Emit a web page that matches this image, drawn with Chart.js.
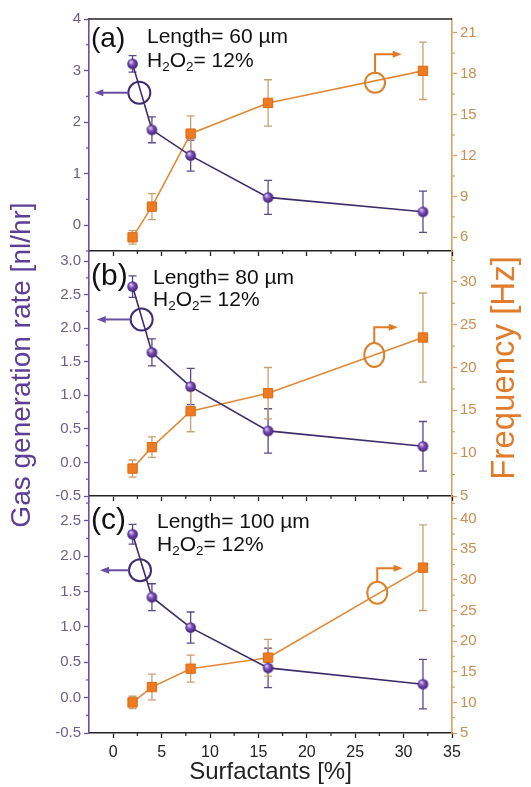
<!DOCTYPE html>
<html><head><meta charset="utf-8">
<script src="https://cdn.jsdelivr.net/npm/chart.js@4.4.1/dist/chart.umd.min.js"></script>
<style>
html,body{margin:0;padding:0;background:#fff;}
#wrap{position:relative;width:531px;height:787px;overflow:hidden;background:#fff;}
canvas{position:absolute;left:0;top:0;}
</style></head><body>
<div id="wrap"><canvas id="cc" width="531" height="787"></canvas><canvas id="cb" width="531" height="787"></canvas><canvas id="ca" width="531" height="787"></canvas></div>
<script>
// ---------- data ----------
const surfactants = [2, 4, 8, 16, 32];

const gasA = [3.13, 1.85, 1.35, 0.54, 0.26];
const gasErrA = [0.16, 0.25, 0.30, 0.33, 0.40];
const freqA = [6.0, 8.25, 13.6, 15.85, 18.2];
const freqErrA = [0.5, 0.95, 1.3, 1.7, 2.1];

const gasB = [2.62, 1.64, 1.13, 0.47, 0.24];
const gasErrB = [0.16, 0.20, 0.27, 0.33, 0.37];
const freqB = [8.2, 10.7, 14.9, 17.0, 23.5];
const freqErrB = [1.0, 1.2, 2.4, 3.0, 5.2];

const gasC = [2.31, 1.42, 0.99, 0.42, 0.19];
const gasErrC = [0.14, 0.19, 0.22, 0.28, 0.35];
const freqC = [10.0, 12.5, 15.5, 17.3, 32.0];
const freqErrC = [1.0, 2.1, 2.2, 3.0, 7.0];

const xMajor = [0, 5, 10, 15, 20, 25, 30, 35];
const xMinor = [2.5, 7.5, 12.5, 17.5, 22.5, 27.5, 32.5];

const leftMajorA = [0, 1, 2, 3, 4];
const leftMinorA = [-0.5, 0.5, 1.5, 2.5, 3.5];
const rightMajorA = [6, 9, 12, 15, 18, 21];
const rightMinorA = [7.5, 10.5, 13.5, 16.5, 19.5];

const leftMajorB = [-0.5, 0, 0.5, 1, 1.5, 2, 2.5, 3];
const leftMinorB = [-0.25, 0.25, 0.75, 1.25, 1.75, 2.25, 2.75];
const rightMajorB = [5, 10, 15, 20, 25, 30];
const rightMinorB = [7.5, 12.5, 17.5, 22.5, 27.5, 32.5];

const leftMajorC = [-0.5, 0, 0.5, 1, 1.5, 2, 2.5];
const leftMinorC = [-0.25, 0.25, 0.75, 1.25, 1.75, 2.25, 2.75];
const rightMajorC = [5, 10, 15, 20, 25, 30, 35, 40];
const rightMinorC = [7.5, 12.5, 17.5, 22.5, 27.5, 32.5, 37.5, 42.5];

const panelLabels = ['(a)', '(b)', '(c)'];
const lengthLabels = ['Length= 60 \u00B5m', 'Length= 80 \u00B5m', 'Length= 100 \u00B5m'];
const xTitle = 'Surfactants [%]';
const leftTitle = 'Gas generation rate [nl/hr]';
const rightTitle = 'Frequency [Hz]';

// ---------- style ----------
const FAM = "'Liberation Sans', Arial, Helvetica, sans-serif";
const PURPLE_AXIS = '#6650a0';
const PURPLE_TICK = '#6b5f86';
const PURPLE_LINE = '#3d2c6c';
const PURPLE_ERR = '#5a4a86';
const PURPLE_TITLE = '#5c3e96';
const ORANGE_AXIS = '#d9a264';
const ORANGE_TICK = '#c98f52';
const ORANGE_LINE = '#de8a36';
const ORANGE_ERR = '#c7a071';
const ORANGE_FILL = '#ee7b20';
const ORANGE_TITLE = '#e07c2a';
const BLACK = '#222';
const CLEAR = 'rgba(0,0,0,0)';

function sphere(r) {
  const s = Math.ceil(r * 2 + 2);
  const c = document.createElement('canvas');
  c.width = s; c.height = s;
  const g = c.getContext('2d');
  const cx = s / 2, cy = s / 2;
  const grd = g.createRadialGradient(cx - r * 0.35, cy - r * 0.4, r * 0.1, cx, cy, r);
  grd.addColorStop(0, '#dccbf2');
  grd.addColorStop(0.45, '#7b4cb6');
  grd.addColorStop(1, '#3e2174');
  g.fillStyle = grd;
  g.beginPath(); g.arc(cx, cy, r, 0, Math.PI * 2); g.fill();
  return c;
}
const ball = sphere(5.3);

function pts(ys) { return surfactants.map((x, i) => ({ x: x, y: ys[i] })); }
function merge(a, b) { return a.concat(b).sort((p, q) => p - q); }

function yScale(pos, min, max, majors, minors, fmt, width) {
  const isL = pos === 'left';
  const col = isL ? PURPLE_AXIS : ORANGE_AXIS;
  return {
    type: 'linear', position: pos, min: min, max: max, minor: minors, minorColor: col,
    afterBuildTicks: s => { s.ticks = merge(majors, minors).map(v => ({ value: v })); },
    afterFit: s => { s.width = width; },
    grid: { drawOnChartArea: false, drawTicks: true, tickLength: 5,
            tickColor: c => majors.includes(c.tick && c.tick.value) ? col : CLEAR, tickWidth: 1.3 },
    border: { display: true, color: col, width: 1.6 },
    ticks: { autoSkip: false, color: isL ? PURPLE_TICK : ORANGE_TICK,
             font: { family: FAM, size: 15 }, padding: 3,
             callback: v => majors.includes(v) ? fmt(v) : '' }
  };
}
function xScale(showLabels, height) {
  return {
    type: 'linear', position: 'bottom', min: -2.5, max: 35, minor: xMinor, minorColor: BLACK,
    afterBuildTicks: s => { s.ticks = merge(xMajor, xMinor).map(v => ({ value: v })); },
    afterFit: s => { s.height = height; },
    grid: { drawOnChartArea: false, drawTicks: true, tickLength: 5,
            tickColor: c => xMajor.includes(c.tick && c.tick.value) ? BLACK : CLEAR, tickWidth: 1.3 },
    border: { display: true, color: BLACK, width: 1.6 },
    ticks: { autoSkip: false, maxRotation: 0, color: BLACK, font: { family: FAM, size: 16 }, padding: 5,
             callback: v => (showLabels && xMajor.includes(v)) ? String(v) : '' },
    title: { display: showLabels, text: xTitle, color: BLACK, font: { family: FAM, size: 24 },
             padding: { top: 0, bottom: 0 } }
  };
}

// short minor ticks, drawn through each scale
const minorPlugin = {
  id: 'minorTicks',
  afterDraw(chart) {
    const ctx = chart.ctx;
    ctx.save();
    ctx.lineWidth = 1.2;
    Object.values(chart.scales).forEach(s => {
      const list = s.options.minor;
      if (!list) return;
      ctx.strokeStyle = s.options.minorColor;
      list.forEach(v => {
        const p = s.getPixelForValue(v);
        ctx.beginPath();
        if (s.position === 'left') { ctx.moveTo(s.right, p); ctx.lineTo(s.right - 3, p); }
        else if (s.position === 'right') { ctx.moveTo(s.left, p); ctx.lineTo(s.left + 3, p); }
        else { ctx.moveTo(p, s.top); ctx.lineTo(p, s.top + 3); }
        ctx.stroke();
      });
    });
    ctx.restore();
  }
};

const errPlugin = {
  id: 'errbars',
  beforeDatasetsDraw(chart) {
    const ctx = chart.ctx;
    const xs = chart.scales.x;
    chart.data.datasets.forEach(ds => {
      if (!ds.errors) return;
      const ys = chart.scales[ds.yAxisID];
      ctx.save();
      ctx.strokeStyle = ds.errColor;
      ctx.lineWidth = 1.3;
      ds.data.forEach((p, i) => {
        const e = ds.errors[i];
        const px = xs.getPixelForValue(p.x);
        const y1 = ys.getPixelForValue(p.y + e), y2 = ys.getPixelForValue(p.y - e);
        ctx.beginPath();
        ctx.moveTo(px, y1); ctx.lineTo(px, y2);
        ctx.moveTo(px - 4, y1); ctx.lineTo(px + 4, y1);
        ctx.moveTo(px - 4, y2); ctx.lineTo(px + 4, y2);
        ctx.stroke();
      });
      ctx.restore();
    });
  }
};

function arrowHead(ctx, x, y, dir, color) {
  ctx.save();
  ctx.fillStyle = color;
  ctx.beginPath();
  if (dir === 'left') { ctx.moveTo(x, y); ctx.lineTo(x + 9, y - 3.5); ctx.lineTo(x + 9, y + 3.5); }
  else { ctx.moveTo(x, y); ctx.lineTo(x - 9, y - 3.5); ctx.lineTo(x - 9, y + 3.5); }
  ctx.closePath(); ctx.fill();
  ctx.restore();
}

function richText(ctx, x, y, parts, size) {
  let cx = x;
  parts.forEach(p => {
    const fs = p.sub ? size * 0.64 : size;
    ctx.font = fs + 'px ' + FAM;
    ctx.fillText(p.t, cx, y + (p.sub ? size * 0.28 : 0));
    cx += ctx.measureText(p.t).width;
  });
}

const decoPlugin = {
  id: 'deco',
  afterDatasetsDraw(chart, args, o) {
    const ctx = chart.ctx;
    const ca = chart.chartArea;
    const xs = chart.scales.x, yl = chart.scales.yL, yr = chart.scales.yR;
    ctx.save();
    if (o.topLine) {
      ctx.strokeStyle = BLACK; ctx.lineWidth = 1.6;
      ctx.beginPath(); ctx.moveTo(ca.left, ca.top); ctx.lineTo(ca.right, ca.top); ctx.stroke();
    }
    // texts
    ctx.fillStyle = '#111';
    ctx.textBaseline = 'middle';
    ctx.textAlign = 'left';
    ctx.font = o.tagSize + 'px ' + FAM;
    ctx.fillText(o.tag, ca.left + 2, ca.top + o.tagDy);
    ctx.font = '21px ' + FAM;
    ctx.fillText(o.len, ca.left + o.textDx, ca.top + o.lenDy);
    richText(ctx, ca.left + o.textDx, ca.top + o.hDy,
      [{ t: 'H' }, { t: '2', sub: true }, { t: 'O' }, { t: '2', sub: true }, { t: '= 12%' }], 21);
    // purple circle + arrow to left axis
    const pc = o.pCircle;
    const px = xs.getPixelForValue(pc.x), py = yl.getPixelForValue(pc.y);
    ctx.strokeStyle = '#3f2d72'; ctx.lineWidth = 2;
    ctx.beginPath(); ctx.arc(px, py, 11, 0, Math.PI * 2); ctx.stroke();
    const tip = xs.getPixelForValue(pc.tip);
    ctx.strokeStyle = '#6a4ea6'; ctx.lineWidth = 2;
    ctx.beginPath(); ctx.moveTo(px - 11, py); ctx.lineTo(tip + 6, py); ctx.stroke();
    arrowHead(ctx, tip, py, 'left', '#6a4ea6');
    // orange circle + arrow to right axis
    const oc = o.oCircle;
    const ox = xs.getPixelForValue(oc.x), oy = yr.getPixelForValue(oc.y);
    ctx.strokeStyle = '#d9812b'; ctx.lineWidth = 2;
    ctx.beginPath(); ctx.ellipse(ox, oy, 10, o.oRy, 0, 0, Math.PI * 2); ctx.stroke();
    const upY = yr.getPixelForValue(oc.up), rx = xs.getPixelForValue(oc.right);
    ctx.strokeStyle = '#e07a25';
    ctx.beginPath(); ctx.moveTo(ox, oy - o.oRy); ctx.lineTo(ox, upY); ctx.lineTo(rx - 6, upY); ctx.stroke();
    arrowHead(ctx, rx, upY, 'right', '#e07a25');
    // big axis titles
    if (o.titles) {
      ctx.textAlign = 'center';
      ctx.save();
      ctx.translate(22, 365); ctx.rotate(-Math.PI / 2);
      ctx.fillStyle = PURPLE_TITLE; ctx.font = '28px ' + FAM;
      ctx.fillText(leftTitle, 0, 0);
      ctx.restore();
      ctx.save();
      ctx.translate(505, 368); ctx.rotate(-Math.PI / 2);
      ctx.fillStyle = ORANGE_TITLE; ctx.font = '33px ' + FAM;
      ctx.fillText(rightTitle, 0, 0);
      ctx.restore();
    }
    ctx.restore();
  }
};

function makeChart(id, gas, gasErr, freq, freqErr, scales, padding, deco) {
  return new Chart(document.getElementById(id), {
    type: 'line',
    data: {
      datasets: [
        { data: pts(gas), errors: gasErr, errColor: PURPLE_ERR, yAxisID: 'yL',
          borderColor: PURPLE_LINE, borderWidth: 1.6, pointStyle: ball, pointRadius: 5,
          tension: 0 },
        { data: pts(freq), errors: freqErr, errColor: ORANGE_ERR, yAxisID: 'yR',
          borderColor: ORANGE_LINE, borderWidth: 1.6, pointStyle: 'rect', pointRadius: 6.6,
          pointBackgroundColor: ORANGE_FILL, pointBorderColor: '#dc6a16', pointBorderWidth: 1,
          tension: 0 }
      ]
    },
    options: {
      responsive: false, animation: false, devicePixelRatio: 1,
      layout: { padding: padding },
      scales: scales,
      plugins: { legend: { display: false }, tooltip: { enabled: false }, deco: deco }
    },
    plugins: [errPlugin, decoPlugin, minorPlugin]
  });
}

const f0 = v => String(v);
const f1 = v => v.toFixed(1);

makeChart('ca', gasA, gasErrA, freqA, freqErrA, {
  x: xScale(false, 11),
  yL: yScale('left', -0.5, 4, leftMajorA, leftMinorA, f0, 89),
  yR: yScale('right', 5, 22, rightMajorA, rightMinorA, f0, 79)
}, { top: 19, bottom: 525, left: 0, right: 0 }, {
  topLine: true, tag: panelLabels[0], tagSize: 28, tagDy: 20, textDx: 58, lenDy: 18.5, hDy: 42,
  len: lengthLabels[0], oRy: 10,
  pCircle: { x: 2.7, y: 2.57, tip: -1.95 },
  oCircle: { x: 27.05, y: 17.33, up: 19.41, right: 29.8 }
});

makeChart('cb', gasB, gasErrB, freqB, freqErrB, {
  x: xScale(false, 11),
  yL: yScale('left', -0.5, 3.15, leftMajorB, leftMinorB, f1, 89),
  yR: yScale('right', 5, 33.6, rightMajorB, rightMinorB, f0, 79)
}, { top: 251, bottom: 280, left: 0, right: 0 }, {
  topLine: false, tag: panelLabels[1], tagSize: 30, tagDy: 26, textDx: 64, lenDy: 27, hDy: 49,
  len: lengthLabels[1], oRy: 12,
  pCircle: { x: 2.94, y: 2.13, tip: -1.7 },
  oCircle: { x: 26.97, y: 21.46, up: 24.7, right: 29.4 }
});

makeChart('cc', gasC, gasErrC, freqC, freqErrC, {
  x: xScale(true, 54),
  yL: yScale('left', -0.5, 2.85, leftMajorC, leftMinorC, f1, 89),
  yR: yScale('right', 5, 43.7, rightMajorC, rightMinorC, f0, 79)
}, { top: 496, bottom: 0, left: 0, right: 0 }, {
  topLine: false, titles: true, tag: panelLabels[2], tagSize: 30, tagDy: 25, textDx: 68, lenDy: 26, hDy: 49,
  len: lengthLabels[2], oRy: 11,
  pCircle: { x: 2.77, y: 1.80, tip: -1.36 },
  oCircle: { x: 27.28, y: 27.9, up: 31.9, right: 29.9 }
});
</script>
</body></html>
